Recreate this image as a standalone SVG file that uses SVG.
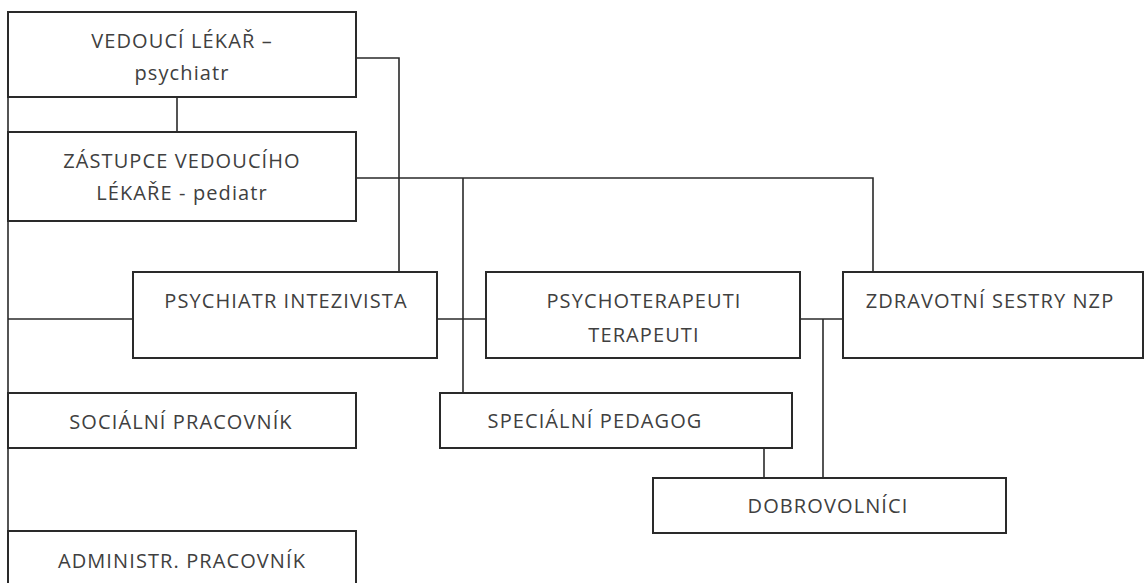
<svg xmlns="http://www.w3.org/2000/svg" width="1146" height="583" viewBox="0 0 1146 583">
<style>
.box{fill:#fff;stroke:#2a2a2a;stroke-width:2}
.t{font-family:"Open Sans","Noto Sans",sans-serif;font-size:20px;letter-spacing:1.1px;fill:#404040;text-anchor:middle}
.c{fill:none;stroke:#2a2a2a;stroke-width:1.6}
</style>
<rect width="1146" height="583" fill="#fff"/>
<g id="connectors">
<line class="c" x1="8" y1="97" x2="8" y2="590"/>
<line class="c" x1="177" y1="97" x2="177" y2="132"/>
<polyline class="c" points="356,58 399,58 399,272"/>
<polyline class="c" points="356,178 873,178 873,272"/>
<line class="c" x1="463" y1="178" x2="463" y2="393"/>
<line class="c" x1="8" y1="319" x2="133" y2="319"/>
<line class="c" x1="437" y1="319" x2="486" y2="319"/>
<line class="c" x1="800" y1="319" x2="843" y2="319"/>
<line class="c" x1="823" y1="319" x2="823" y2="478"/>
<line class="c" x1="764" y1="448" x2="764" y2="478"/>
</g>
<g id="vedouci">
<rect class="box" x="8" y="12" width="348" height="85"/>
<text class="t" x="182" y="48">VEDOUCÍ LÉKAŘ –</text>
<text class="t" x="182" y="80">psychiatr</text>
</g>
<g id="zastupce">
<rect class="box" x="8" y="132" width="348" height="89"/>
<text class="t" x="182" y="168">ZÁSTUPCE VEDOUCÍHO</text>
<text class="t" x="182" y="200">LÉKAŘE - pediatr</text>
</g>
<g id="psychiatr">
<rect class="box" x="133" y="272" width="304" height="86"/>
<text class="t" x="286" y="308">PSYCHIATR INTEZIVISTA</text>
</g>
<g id="psychoterapeuti">
<rect class="box" x="486" y="272" width="314" height="86"/>
<text class="t" x="644" y="308">PSYCHOTERAPEUTI</text>
<text class="t" x="644" y="342">TERAPEUTI</text>
</g>
<g id="zdravotni">
<rect class="box" x="843" y="272" width="300" height="86"/>
<text class="t" x="990" y="308">ZDRAVOTNÍ SESTRY NZP</text>
</g>
<g id="socialni">
<rect class="box" x="8" y="393" width="348" height="55"/>
<text class="t" x="181" y="429">SOCIÁLNÍ PRACOVNÍK</text>
</g>
<g id="specialni">
<rect class="box" x="440" y="393" width="352" height="55"/>
<text class="t" x="595" y="428">SPECIÁLNÍ PEDAGOG</text>
</g>
<g id="dobrovolnici">
<rect class="box" x="653" y="478" width="353" height="55"/>
<text class="t" x="828" y="513">DOBROVOLNÍCI</text>
</g>
<g id="administr">
<rect class="box" x="8" y="531" width="348" height="60"/>
<text class="t" x="182" y="568">ADMINISTR. PRACOVNÍK</text>
</g>
</svg>
